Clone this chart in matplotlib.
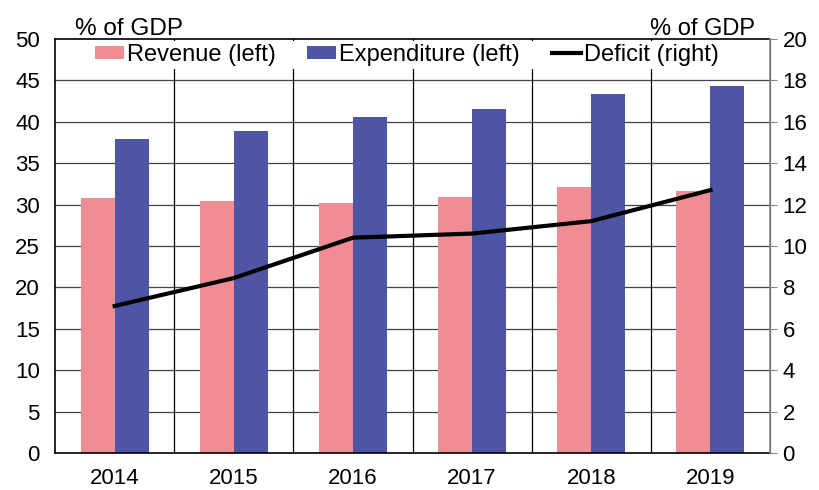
import matplotlib
matplotlib.use("Agg")
import matplotlib.pyplot as plt
import numpy as np

years = ["2014", "2015", "2016", "2017", "2018", "2019"]
revenue = [30.8, 30.4, 30.2, 30.9, 32.1, 31.6]
expenditure = [37.9, 38.9, 40.6, 41.5, 43.3, 44.3]
deficit = [7.1, 8.45, 10.4, 10.6, 11.2, 12.7]

plt.rcParams['font.family'] = ['Liberation Sans', 'DejaVu Sans']

fig = plt.figure(figsize=(8.19, 4.90), dpi=100)
ax = fig.add_axes([0.0672, 0.0755, 0.873, 0.845])
ax2 = ax.twinx()

x = np.arange(len(years))
w = 0.285
rev_c = '#F08C94'
exp_c = '#4F55A5'

ax.set_axisbelow(True)
for yv in range(5, 50, 5):
    ax.axhline(yv, color='#444444', lw=0.9, zorder=0)
for xv in np.arange(0.5, len(years) - 0.5, 1):
    ax.axvline(xv, color='black', lw=0.9, zorder=0)

b1 = ax.bar(x - w / 2, revenue, w, color=rev_c, label='Revenue (left)', zorder=2)
b2 = ax.bar(x + w / 2, expenditure, w, color=exp_c, label='Expenditure (left)', zorder=2)
l1, = ax2.plot(x, deficit, color='black', lw=3, label='Deficit (right)', zorder=3)

ax.set_xlim(-0.5, len(years) - 0.5)
ax.set_ylim(0, 50)
ax2.set_ylim(0, 20)
ax.set_yticks(range(0, 51, 5))
ax2.set_yticks(range(0, 21, 2))
ax.set_xticks(x)
ax.set_xticklabels(years)

ax.tick_params(axis='y', labelsize=16, length=0, pad=11)
ax.tick_params(axis='x', labelsize=16, length=0, pad=11)
ax2.tick_params(axis='y', labelsize=16, length=5, color='#888888', pad=4)

for s in ['left', 'top', 'bottom']:
    ax.spines[s].set_color('black')
    ax.spines[s].set_linewidth(1.2)
ax2.spines['right'].set_color('#888888')
ax2.spines['right'].set_linewidth(1.2)
for s in ['left', 'top', 'bottom']:
    ax2.spines[s].set_visible(False)

fig.text(0.092, 0.929, '% of GDP', fontsize=17.5, ha='left', va='baseline')
fig.text(0.922, 0.929, '% of GDP', fontsize=17, ha='right', va='baseline')

leg = ax2.legend([b1, b2, l1], ['Revenue (left)', 'Expenditure (left)', 'Deficit (right)'],
                 loc='upper center', bbox_to_anchor=(0.492, 0.995), ncol=3, fontsize=17,
                 frameon=True, fancybox=False, framealpha=1, edgecolor='none',
                 handlelength=1.23, handleheight=0.45, handletextpad=0.13,
                 columnspacing=1.35, borderpad=0.12, borderaxespad=0.0)
leg.get_frame().set_facecolor('white')

fig.savefig('out.png', dpi=100)
